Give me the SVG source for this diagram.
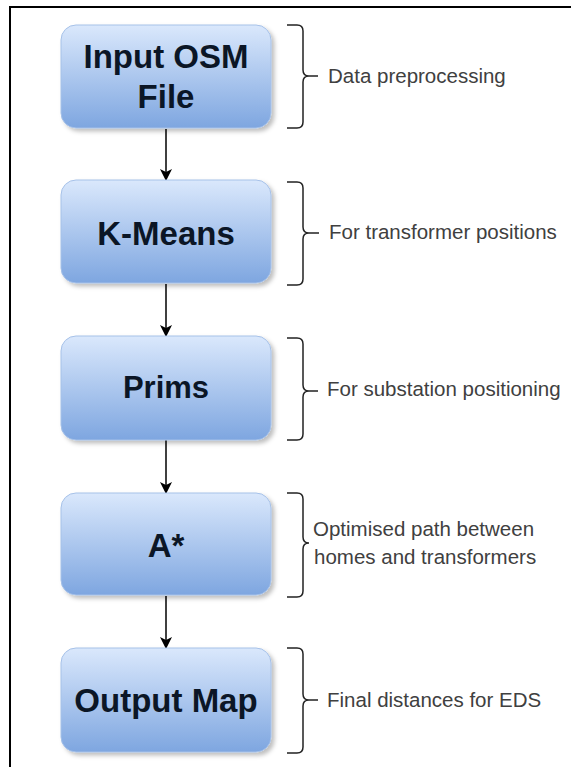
<svg xmlns="http://www.w3.org/2000/svg" width="571" height="767" viewBox="0 0 571 767">
<style>
.box{fill:url(#g);stroke:#a6c1e8;stroke-width:1;filter:url(#sh)}
.t{font-family:"Liberation Sans",Arial,sans-serif;font-weight:bold;font-size:33px;fill:#0b1626;text-anchor:middle}
.d{font-family:"Liberation Sans",Arial,sans-serif;font-size:20.5px;fill:#404040}
.br{fill:none;stroke:#222;stroke-width:1.5}
.ar{stroke:#000;stroke-width:1.5;fill:none}
</style>
<defs>
<linearGradient id="g" x1="0" y1="0" x2="0" y2="1">
<stop offset="0" stop-color="#dae8fc"/>
<stop offset="1" stop-color="#7ea6e0"/>
</linearGradient>
<filter id="sh" x="-10%" y="-10%" width="125%" height="130%">
<feDropShadow dx="3" dy="3" stdDeviation="2" flood-color="#000" flood-opacity="0.25"/>
</filter>
<marker id="ah" viewBox="0 0 12 12" refX="11" refY="6" markerWidth="12" markerHeight="12" markerUnits="userSpaceOnUse" orient="auto">
<path d="M0,0 L12,6 L0,12 L3,6 Z" fill="#000"/>
</marker>
</defs>
<rect width="571" height="767" fill="#fff"/>
<path d="M10,767 V7 H571" fill="none" stroke="#000" stroke-width="2"/>

<g id="connectors">
<line class="ar" x1="166" y1="129" x2="166" y2="180" marker-end="url(#ah)"/>
<line class="ar" x1="166" y1="284" x2="166" y2="336" marker-end="url(#ah)"/>
<line class="ar" x1="166" y1="440" x2="166" y2="493" marker-end="url(#ah)"/>
<line class="ar" x1="166" y1="596" x2="166" y2="648" marker-end="url(#ah)"/>
</g>

<g id="n1">
<rect class="box" x="61" y="25" width="210" height="103" rx="15"/>
<text class="t" x="166" y="68">Input OSM</text>
<text class="t" x="166" y="108">File</text>
</g>
<g id="n2">
<rect class="box" x="61" y="180" width="210" height="103" rx="15"/>
<text class="t" x="166" y="245">K-Means</text>
</g>
<g id="n3">
<rect class="box" x="61" y="336" width="210" height="104" rx="15"/>
<text class="t" x="166" y="398" style="font-size:31px">Prims</text>
</g>
<g id="n4">
<rect class="box" x="61" y="493" width="210" height="102" rx="15"/>
<text class="t" x="166" y="557">A*</text>
</g>
<g id="n5">
<rect class="box" x="61" y="648" width="210" height="104" rx="15"/>
<text class="t" x="166" y="712">Output Map</text>
</g>

<g id="b1">
<path class="br" d="M287,25 H297 Q303,25 303,31 V70 Q303,76 309,76 H318 M309,76 Q303,76 303,82 V122 Q303,128 297,128 H287"/>
<text class="d" x="328" y="83">Data preprocessing</text>
</g>
<g id="b2">
<path class="br" d="M287,182 H297 Q303,182 303,188 V227 Q303,233 309,233 H319 M309,233 Q303,233 303,239 V279 Q303,285 297,285 H287"/>
<text class="d" x="329" y="239">For transformer positions</text>
</g>
<g id="b3">
<path class="br" d="M287,338 H297 Q303,338 303,344 V385 Q303,391 309,391 H318 M309,391 Q303,391 303,397 V434 Q303,440 297,440 H287"/>
<text class="d" x="327" y="396">For substation positioning</text>
</g>
<g id="b4">
<path class="br" d="M287,493 H297 Q303,493 303,499 V537 Q303,543 309,543 M309,543 Q303,543 303,549 V591 Q303,597 297,597 H287"/>
<text class="d" x="313" y="536">Optimised path between</text>
<text class="d" x="314" y="564">homes and transformers</text>
</g>
<g id="b5">
<path class="br" d="M287,648 H297 Q303,648 303,654 V694 Q303,700 309,700 H318 M309,700 Q303,700 303,706 V747 Q303,753 297,753 H287"/>
<text class="d" x="327" y="707">Final distances for EDS</text>
</g>
</svg>
